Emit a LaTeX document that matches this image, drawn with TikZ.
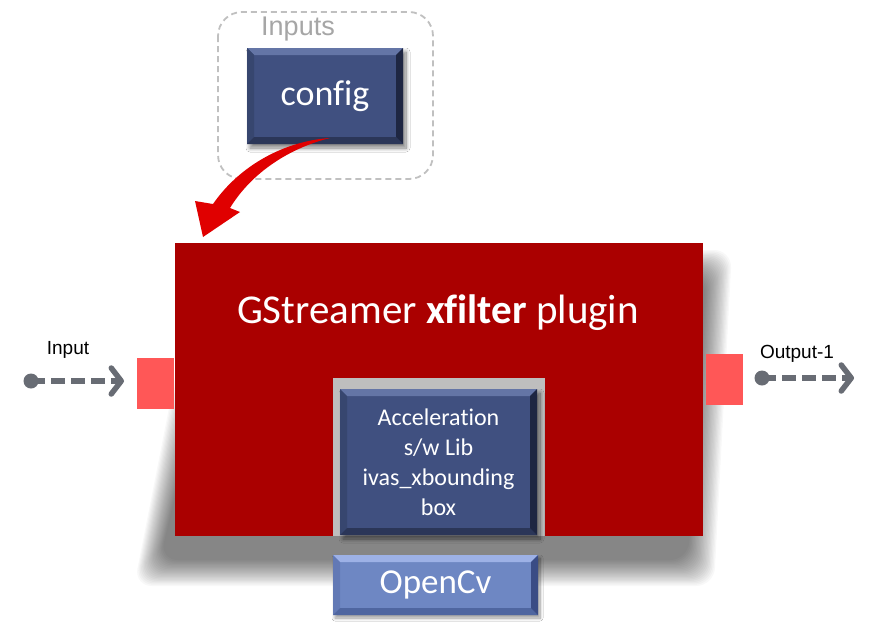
\documentclass[tikz,border=0pt]{standalone}
\usepackage{fontspec}
\setmainfont{Carlito}[Ligatures=NoCommon]
\newfontfamily\arialf{Liberation Sans}
\usetikzlibrary{shadows.blur,arrows.meta,calc}
\definecolor{mainred}{HTML}{AA0000}
\definecolor{portred}{HTML}{FF5757}
\definecolor{framegray}{HTML}{BEBEBE}
\definecolor{dashgray}{HTML}{C0C0C0}
\definecolor{inputsgray}{HTML}{A6A6A6}
\definecolor{flowgray}{HTML}{686C74}
\definecolor{arrowred}{HTML}{E00000}
\definecolor{dbMain}{HTML}{405080}
\definecolor{dbTop}{HTML}{6475A6}
\definecolor{dbLeft}{HTML}{37466F}
\definecolor{dbBot}{HTML}{2B3658}
\definecolor{dbRight}{HTML}{1E2642}
\definecolor{lbMain}{HTML}{6E87C3}
\definecolor{lbTop}{HTML}{9DB1E6}
\definecolor{lbLeft}{HTML}{6279B5}
\definecolor{lbBot}{HTML}{4F66A0}
\definecolor{lbRight}{HTML}{3A4C85}
\begin{document}
\begin{tikzpicture}[x=1pt,y=-1pt,
  bevel/.style n args={4}{path picture={
    \path (path picture bounding box.north west) coordinate (bNW)
          (path picture bounding box.north east) coordinate (bNE)
          (path picture bounding box.south west) coordinate (bSW)
          (path picture bounding box.south east) coordinate (bSE);
    \fill[#1] (bNW) -- (bNE) -- ([shift={(-7pt,-7pt)}]bNE) -- ([shift={(7pt,-7pt)}]bNW) -- cycle;
    \fill[#2] (bNW) -- ([shift={(7pt,-7pt)}]bNW) -- ([shift={(7pt,7pt)}]bSW) -- (bSW) -- cycle;
    \fill[#3] (bSW) -- ([shift={(7pt,7pt)}]bSW) -- ([shift={(-7pt,7pt)}]bSE) -- (bSE) -- cycle;
    \fill[#4] (bNE) -- (bSE) -- ([shift={(-7pt,7pt)}]bSE) -- ([shift={(-7pt,-7pt)}]bNE) -- cycle;
  }},
  darkbox/.style={fill=dbMain, text=white, inner sep=0pt,
    bevel={dbTop}{dbLeft}{dbBot}{dbRight},
    blur shadow={shadow xshift=3pt, shadow yshift=-4pt, shadow blur radius=4pt, shadow blur steps=10, shadow opacity=50}},
  lightbox/.style={fill=lbMain, text=white, inner sep=0pt,
    bevel={lbTop}{lbLeft}{lbBot}{lbRight},
    blur shadow={shadow xshift=2pt, shadow yshift=-3pt, shadow blur radius=3pt, shadow blur steps=10, shadow opacity=40}},
  port/.style={fill=portred, draw=none, minimum width=37pt, minimum height=51pt, inner sep=0pt},
  flow/.style={draw=flowgray, line width=5.5pt, dash pattern=on 14pt off 6pt,
    -{Straight Barb[length=10pt,width=26pt,line cap=round,line join=round]}},
  flowdot/.style={circle, fill=flowgray, minimum size=15pt, inner sep=0pt},
  smalllabel/.style={font=\arialf\fontsize{19}{22}\selectfont, text=black},
  softlayer/.style={fill=black, opacity=0.027, rounded corners=18pt},
]
\useasboundingbox (0,0) rectangle (882,632);
\fill[white] (0,0) rectangle (882,632);

% Inputs group
\draw[dashgray, line width=1.8pt, dash pattern=on 6pt off 4pt, rounded corners=24pt]
  (218,12) rectangle (433,179);
\node[font=\arialf\fontsize{27}{30}\selectfont, text=inputsgray] (inputs) at (298,29) {Inputs};
\node[darkbox, minimum width=156pt, minimum height=96pt,
  font=\fontsize{36}{40}\selectfont] (config) at (325,96) {config};

% soft shadow of plugin box
\foreach \d in {0,1.3,...,26.1} {
  \fill[softlayer] ({200+\d},{250+\d}) -- ({732-\d},{250+\d}) -- ({714-\d},{586-\d}) -- ({134+\d},{586-\d}) -- cycle;
}

% plugin box
\node[fill=mainred, minimum width=528pt, minimum height=293pt, inner sep=0pt] (plugin) at (439,389.5) {};
\node[text=white, font=\fontsize{41}{45}\selectfont] (title) at (438,313) {GStreamer \textbf{xfilter} plugin};

% ports
\node[port] (inport) at (155.5,383.5) {};
\node[port] (outport) at (724,379.5) {};

% accel frame and box
\fill[framegray] (333,378) rectangle (545,536);
\node[darkbox, minimum width=197pt, minimum height=146pt, align=center,
  font=\fontsize{24}{30}\selectfont] (accel) at (438.5,462)
  {Acceleration\\s/w Lib\\ivas\_xbounding\\box};

\node[lightbox, minimum width=205pt, minimum height=60pt,
  font=\fontsize{35}{40}\selectfont] (opencv) at (435.5,585) {OpenCv};

% red curved arrow from config to plugin
\fill[arrowred] (330,138) .. controls (285,141) and (240,165) .. (213,204)
  -- (195,201) -- (203,237) -- (240,212) -- (230,208)
  .. controls (252,172) and (290,148) .. (330,138) -- cycle;

% input flow
\node[flowdot] (indot) at (31,381) {};
\coordinate (intip) at (124,381);
\draw[flow] (indot.center) -- (intip);
\node[smalllabel] (inlabel) at (68,350) {Input};

% output flow
\node[flowdot] (outdot) at (762,378) {};
\coordinate (outtip) at (854,378);
\draw[flow] (outdot.center) -- (outtip);
\node[smalllabel] (outlabel) at (797,354) {Output-1};
\end{tikzpicture}
\end{document}
